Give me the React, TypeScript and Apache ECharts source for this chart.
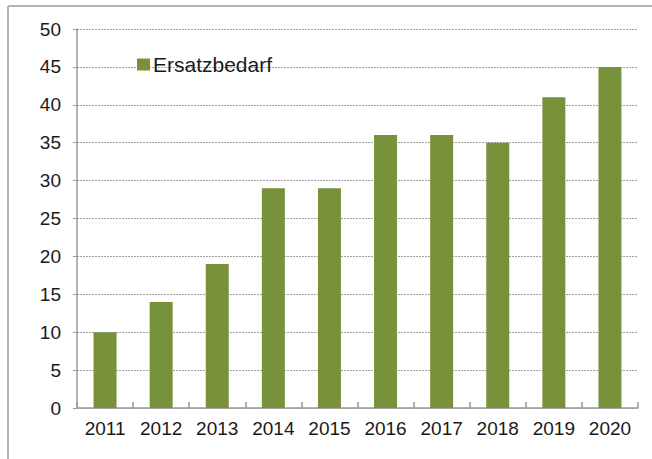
import React, { useEffect, useRef } from "react";
import * as echarts from "echarts";

const categories = ["2011", "2012", "2013", "2014", "2015", "2016", "2017", "2018", "2019", "2020"];
const ersatzbedarf = [10, 14, 19, 29, 29, 36, 36, 35, 41, 45];
const seriesName = "Ersatzbedarf";

export default function App() {
  const ref = useRef<HTMLDivElement>(null);
  useEffect(() => {
    if (!ref.current) return;
    const chart = echarts.init(ref.current, null, { renderer: "svg" });
    chart.setOption({
      animation: false,
      backgroundColor: "#ffffff",
      textStyle: { fontFamily: "Liberation Sans, Arial, sans-serif" },
      graphic: [
        { type: "line", shape: { x1: 8, y1: 6, x2: 652, y2: 6 }, style: { stroke: "#b4b4b4", lineWidth: 2 } },
        { type: "line", shape: { x1: 8, y1: 6, x2: 8, y2: 459 }, style: { stroke: "#b4b4b4", lineWidth: 2 } },
      ],
      legend: {
        left: 137,
        top: 54,
        padding: 0,
        itemWidth: 13,
        itemHeight: 12,
        itemGap: 4,
        icon: "rect",
        textStyle: { fontSize: 21, color: "#1a1a1a", padding: [0, 0, 0, -2] },
        data: [seriesName],
      },
      grid: { left: 77, right: 14, top: 29, bottom: 51, containLabel: false },
      xAxis: {
        type: "category",
        data: categories,
        axisLine: { lineStyle: { color: "#9a9a9a", width: 1.5 } },
        axisTick: { show: true, inside: true, length: 6, alignWithLabel: false, lineStyle: { color: "#9a9a9a", width: 1.5 } },
        axisLabel: { fontSize: 19, color: "#1a1a1a", margin: 11 },
        splitLine: { show: false },
      },
      yAxis: {
        type: "value",
        min: 0,
        max: 50,
        interval: 5,
        axisLine: { show: true, lineStyle: { color: "#9a9a9a", width: 1.5 } },
        axisTick: { show: true, length: 4, lineStyle: { color: "#9a9a9a", width: 1 } },
        axisLabel: { fontSize: 19, color: "#1a1a1a", margin: 16 },
        splitLine: { show: true, lineStyle: { color: "#a0a0a0", type: [2, 1], width: 1 } },
      },
      series: [
        {
          name: seriesName,
          type: "bar",
          data: ersatzbedarf,
          barWidth: 23,
          itemStyle: { color: "#77923b" },
        },
      ],
    });
    return () => chart.dispose();
  }, []);
  return (
    <div
      ref={ref}
      style={{ position: "fixed", left: 0, top: 0, width: 652, height: 459 }}
    />
  );
}
